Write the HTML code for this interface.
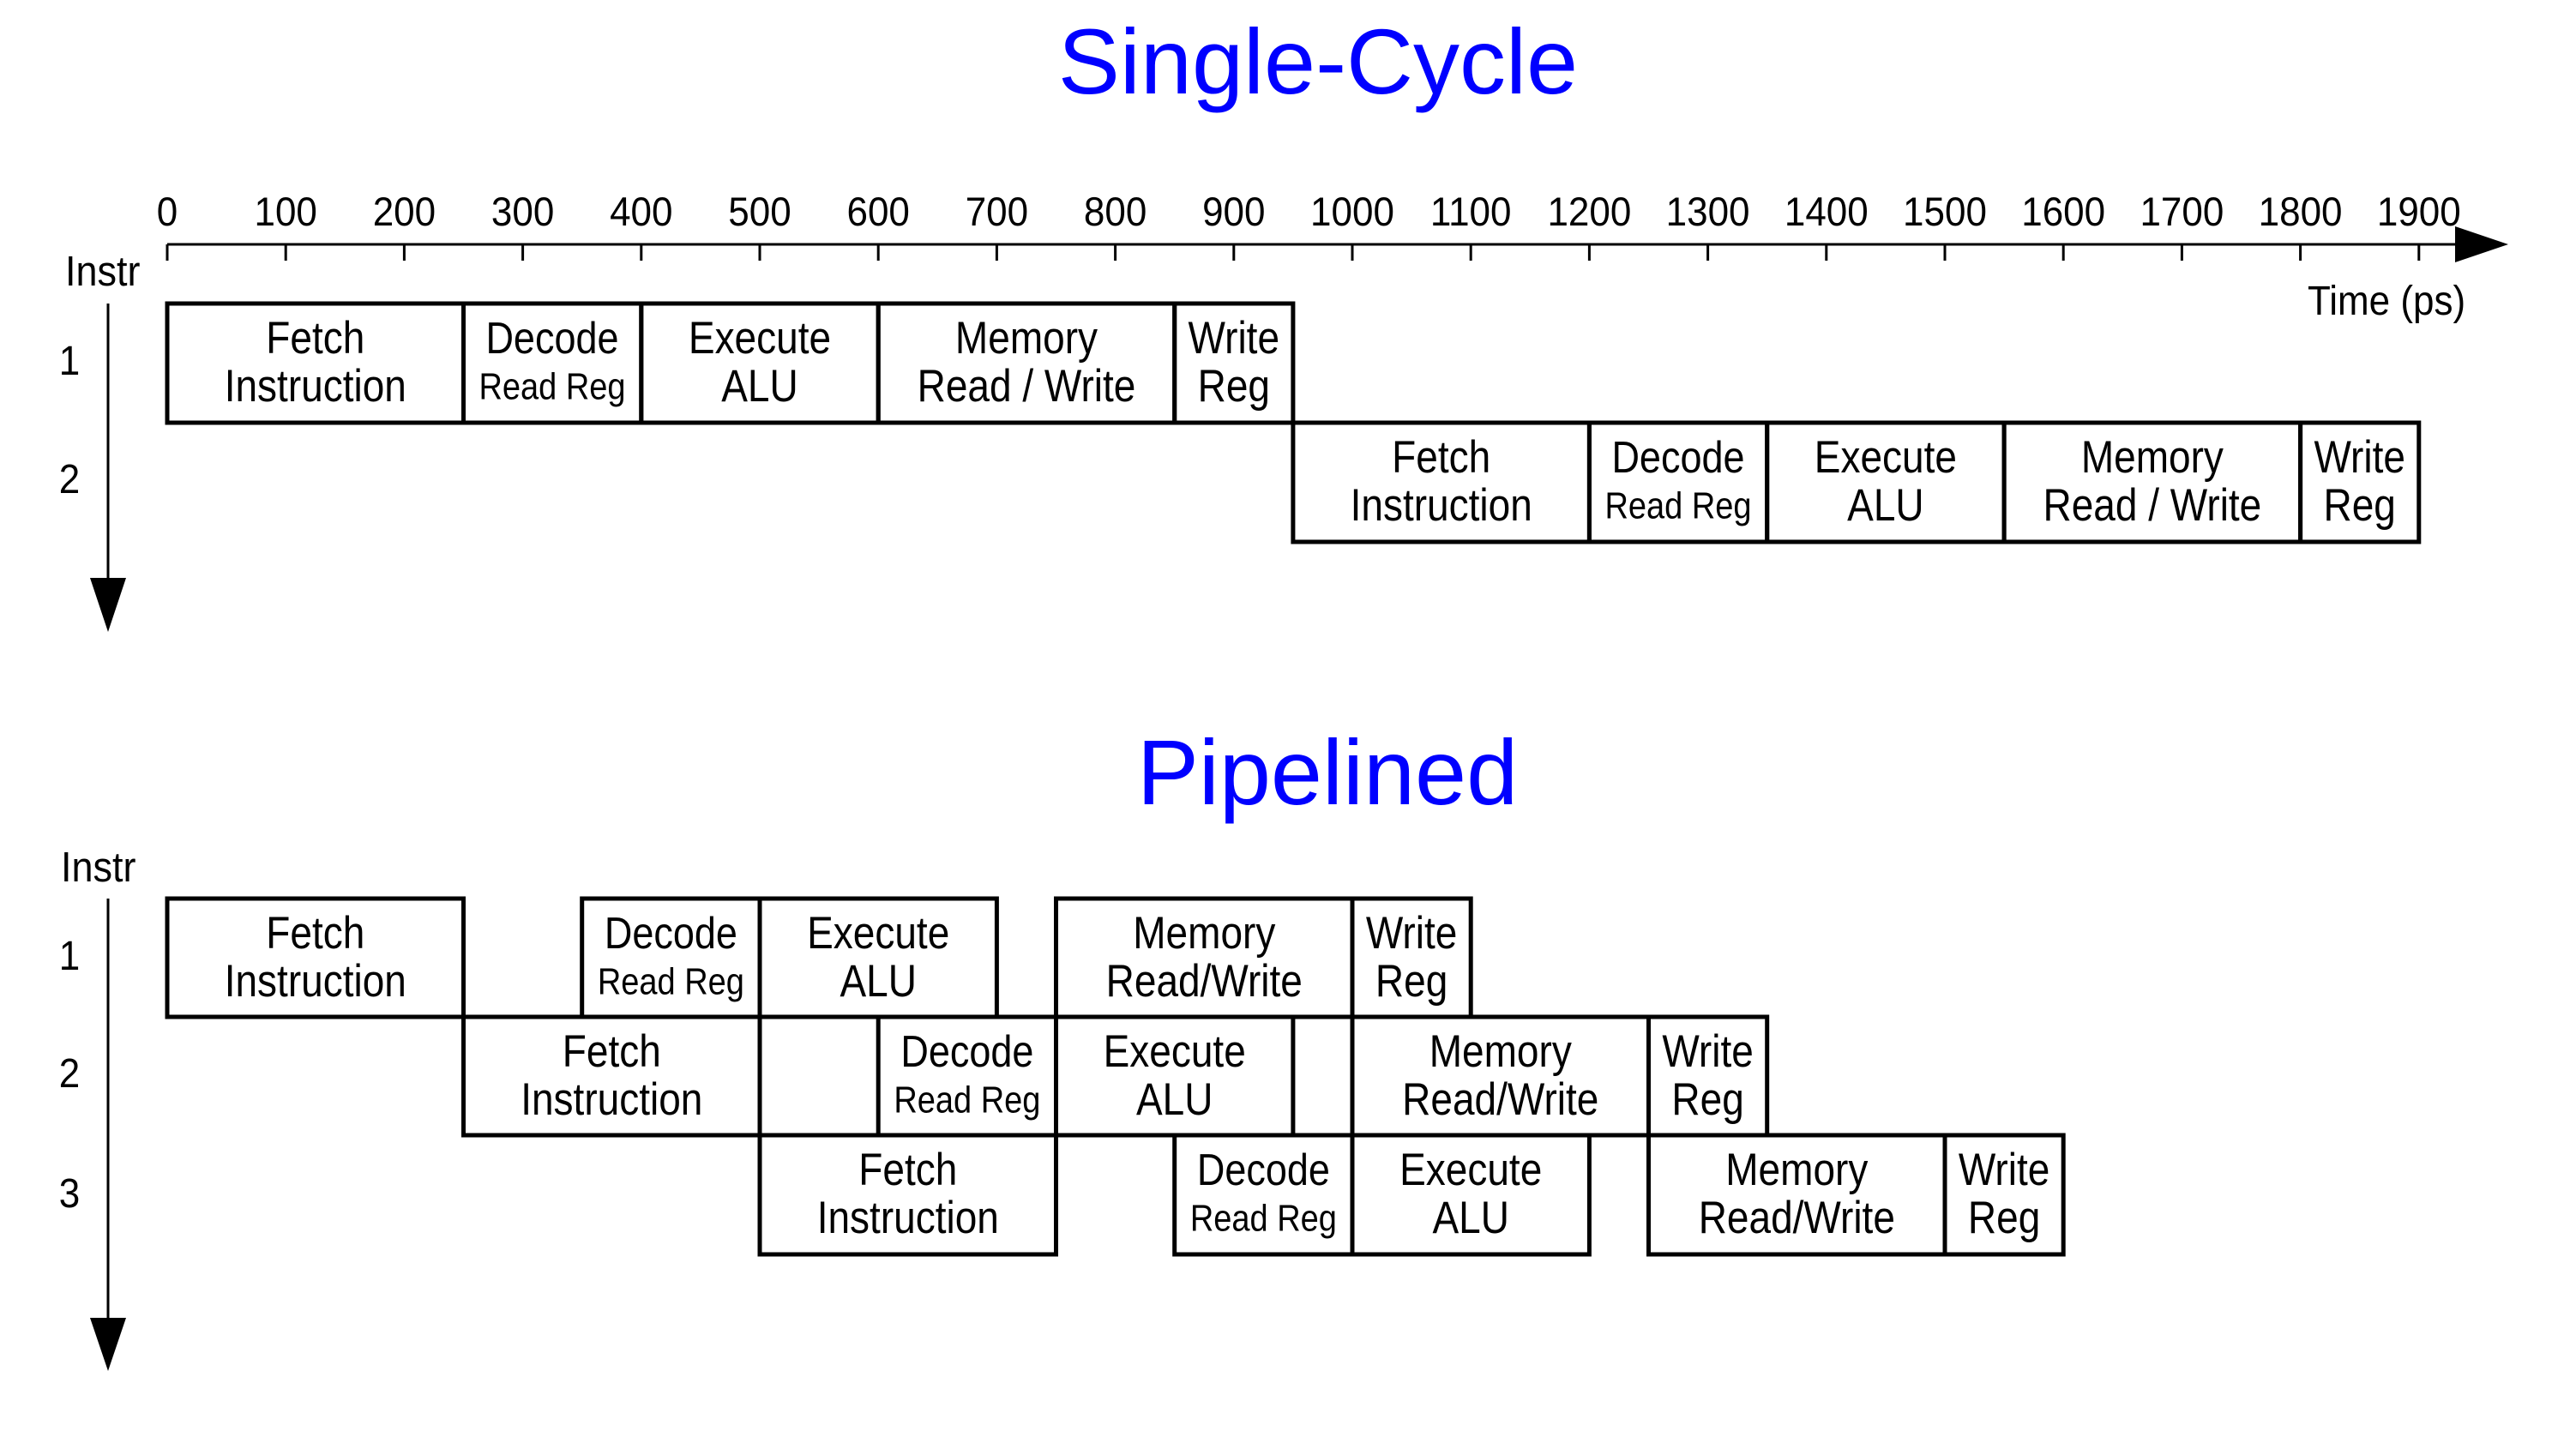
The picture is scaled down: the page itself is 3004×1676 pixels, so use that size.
<!DOCTYPE html>
<html><head><meta charset="utf-8"><style>
html,body{margin:0;padding:0;background:#fff;}
svg{display:block;}
text{font-family:"Liberation Sans",Arial,sans-serif;fill:#000;}
.t{font-size:46px;text-anchor:middle;}
.d{font-size:45px;text-anchor:middle;}
.r{font-size:38px;text-anchor:middle;}
.k{font-size:44px;text-anchor:middle;}
.b{fill:none;stroke:#000;stroke-width:5;}
</style></head><body>
<svg width="3004" height="1676" viewBox="0 0 3004 1676" xmlns="http://www.w3.org/2000/svg">
<text x="1537" y="109" style="font-size:108px;fill:#0000ff;text-anchor:middle">Single-Cycle</text>
<text x="1548" y="938" style="font-size:108px;fill:#0000ff;text-anchor:middle">Pipelined</text>

<line x1="195" y1="285" x2="2870" y2="285" stroke="#000" stroke-width="3"/>
<polygon points="2863,264 2925,285 2863,306" fill="#000"/>
<g stroke="#000" stroke-width="3">
<line x1="195" y1="285" x2="195" y2="304"/><line x1="333.2" y1="285" x2="333.2" y2="304"/><line x1="471.4" y1="285" x2="471.4" y2="304"/><line x1="609.6" y1="285" x2="609.6" y2="304"/><line x1="747.8" y1="285" x2="747.8" y2="304"/><line x1="886" y1="285" x2="886" y2="304"/><line x1="1024.2" y1="285" x2="1024.2" y2="304"/><line x1="1162.4" y1="285" x2="1162.4" y2="304"/><line x1="1300.6" y1="285" x2="1300.6" y2="304"/><line x1="1438.8" y1="285" x2="1438.8" y2="304"/><line x1="1577" y1="285" x2="1577" y2="304"/><line x1="1715.2" y1="285" x2="1715.2" y2="304"/><line x1="1853.4" y1="285" x2="1853.4" y2="304"/><line x1="1991.6" y1="285" x2="1991.6" y2="304"/><line x1="2129.8" y1="285" x2="2129.8" y2="304"/><line x1="2268" y1="285" x2="2268" y2="304"/><line x1="2406.2" y1="285" x2="2406.2" y2="304"/><line x1="2544.4" y1="285" x2="2544.4" y2="304"/><line x1="2682.6" y1="285" x2="2682.6" y2="304"/><line x1="2820.8" y1="285" x2="2820.8" y2="304"/>
</g>
<g transform="translate(0,263) scale(1,1.08)">
<text class="k" x="195" y="0">0</text><text class="k" x="333.2" y="0">100</text><text class="k" x="471.4" y="0">200</text><text class="k" x="609.6" y="0">300</text><text class="k" x="747.8" y="0">400</text><text class="k" x="886" y="0">500</text><text class="k" x="1024.2" y="0">600</text><text class="k" x="1162.4" y="0">700</text><text class="k" x="1300.6" y="0">800</text><text class="k" x="1438.8" y="0">900</text><text class="k" x="1577" y="0">1000</text><text class="k" x="1715.2" y="0">1100</text><text class="k" x="1853.4" y="0">1200</text><text class="k" x="1991.6" y="0">1300</text><text class="k" x="2129.8" y="0">1400</text><text class="k" x="2268" y="0">1500</text><text class="k" x="2406.2" y="0">1600</text><text class="k" x="2544.4" y="0">1700</text><text class="k" x="2682.6" y="0">1800</text><text class="k" x="2820.8" y="0">1900</text>
</g>
<g transform="translate(2691,367) scale(1,1.1)"><text x="0" y="0" style="font-size:44px">Time (ps)</text></g>

<g transform="translate(76,333) scale(1,1.1)"><text x="0" y="0" style="font-size:45px">Instr</text></g>
<line x1="126" y1="354" x2="126" y2="680" stroke="#000" stroke-width="3"/>
<polygon points="105,674 147,674 126,737" fill="#000"/>
<g transform="translate(0,437) scale(1,1.1)"><text class="k" x="81" y="0">1</text></g>
<g transform="translate(0,575) scale(1,1.1)"><text class="k" x="81" y="0">2</text></g>

<rect class="b" x="195" y="354" width="345.5" height="139"/>
<rect class="b" x="540.5" y="354" width="207.3" height="139"/>
<rect class="b" x="747.8" y="354" width="276.4" height="139"/>
<rect class="b" x="1024.2" y="354" width="345.5" height="139"/>
<rect class="b" x="1369.7" y="354" width="138.2" height="139"/>
<g transform="translate(0,412) scale(1,1.15)"><text class="t" x="367.8" y="0">Fetch</text><text class="d" x="644" y="0">Decode</text><text class="t" x="886" y="0">Execute</text><text class="t" x="1197" y="0">Memory</text><text class="t" x="1438.8" y="0">Write</text></g>
<g transform="translate(0,468) scale(1,1.15)"><text class="t" x="367.8" y="0">Instruction</text><text class="r" x="644" y="-2">Read Reg</text><text class="t" x="886" y="0">ALU</text><text class="t" x="1197" y="0">Read / Write</text><text class="t" x="1438.8" y="0">Reg</text></g>

<rect class="b" x="1507.9" y="493" width="345.5" height="139"/>
<rect class="b" x="1853.4" y="493" width="207.3" height="139"/>
<rect class="b" x="2060.7" y="493" width="276.4" height="139"/>
<rect class="b" x="2337.1" y="493" width="345.5" height="139"/>
<rect class="b" x="2682.6" y="493" width="138.2" height="139"/>
<g transform="translate(0,551) scale(1,1.15)"><text class="t" x="1680.7" y="0">Fetch</text><text class="d" x="1957" y="0">Decode</text><text class="t" x="2198.9" y="0">Execute</text><text class="t" x="2509.9" y="0">Memory</text><text class="t" x="2751.7" y="0">Write</text></g>
<g transform="translate(0,607) scale(1,1.15)"><text class="t" x="1680.7" y="0">Instruction</text><text class="r" x="1957" y="-2">Read Reg</text><text class="t" x="2198.9" y="0">ALU</text><text class="t" x="2509.9" y="0">Read / Write</text><text class="t" x="2751.7" y="0">Reg</text></g>

<g transform="translate(71,1028) scale(1,1.1)"><text x="0" y="0" style="font-size:45px">Instr</text></g>
<line x1="126" y1="1048" x2="126" y2="1545" stroke="#000" stroke-width="3"/>
<polygon points="105,1537 147,1537 126,1599" fill="#000"/>
<g transform="translate(0,1131) scale(1,1.1)"><text class="k" x="81" y="0">1</text></g>
<g transform="translate(0,1268) scale(1,1.1)"><text class="k" x="81" y="0">2</text></g>
<g transform="translate(0,1408) scale(1,1.1)"><text class="k" x="81" y="0">3</text></g>

<rect class="b" x="195" y="1048" width="345.5" height="138"/>
<rect class="b" x="678.7" y="1048" width="207.3" height="138"/>
<rect class="b" x="886" y="1048" width="276.4" height="138"/>
<rect class="b" x="1231.5" y="1048" width="345.5" height="138"/>
<rect class="b" x="1577" y="1048" width="138.2" height="138"/>
<g transform="translate(0,1106) scale(1,1.15)"><text class="t" x="367.8" y="0">Fetch</text><text class="d" x="782.4" y="0">Decode</text><text class="t" x="1024.2" y="0">Execute</text><text class="t" x="1404.3" y="0">Memory</text><text class="t" x="1646.1" y="0">Write</text></g>
<g transform="translate(0,1162) scale(1,1.15)"><text class="t" x="367.8" y="0">Instruction</text><text class="r" x="782.4" y="-2">Read Reg</text><text class="t" x="1024.2" y="0">ALU</text><text class="t" x="1404.3" y="0">Read/Write</text><text class="t" x="1646.1" y="0">Reg</text></g>

<rect class="b" x="540.5" y="1186" width="345.5" height="138"/>
<rect class="b" x="1024.2" y="1186" width="207.3" height="138"/>
<rect class="b" x="1231.5" y="1186" width="276.4" height="138"/>
<rect class="b" x="1577" y="1186" width="345.5" height="138"/>
<rect class="b" x="1922.5" y="1186" width="138.2" height="138"/>
<g transform="translate(0,1244) scale(1,1.15)"><text class="t" x="713.3" y="0">Fetch</text><text class="d" x="1127.9" y="0">Decode</text><text class="t" x="1369.7" y="0">Execute</text><text class="t" x="1749.8" y="0">Memory</text><text class="t" x="1991.6" y="0">Write</text></g>
<g transform="translate(0,1300) scale(1,1.15)"><text class="t" x="713.3" y="0">Instruction</text><text class="r" x="1127.9" y="-2">Read Reg</text><text class="t" x="1369.7" y="0">ALU</text><text class="t" x="1749.8" y="0">Read/Write</text><text class="t" x="1991.6" y="0">Reg</text></g>

<rect class="b" x="886" y="1324" width="345.5" height="139"/>
<rect class="b" x="1369.7" y="1324" width="207.3" height="139"/>
<rect class="b" x="1577" y="1324" width="276.4" height="139"/>
<rect class="b" x="1922.5" y="1324" width="345.5" height="139"/>
<rect class="b" x="2268" y="1324" width="138.2" height="139"/>
<g transform="translate(0,1382) scale(1,1.15)"><text class="t" x="1058.8" y="0">Fetch</text><text class="d" x="1473.4" y="0">Decode</text><text class="t" x="1715.2" y="0">Execute</text><text class="t" x="2095.3" y="0">Memory</text><text class="t" x="2337.1" y="0">Write</text></g>
<g transform="translate(0,1438) scale(1,1.15)"><text class="t" x="1058.8" y="0">Instruction</text><text class="r" x="1473.4" y="-2">Read Reg</text><text class="t" x="1715.2" y="0">ALU</text><text class="t" x="2095.3" y="0">Read/Write</text><text class="t" x="2337.1" y="0">Reg</text></g>
</svg>
</body></html>
